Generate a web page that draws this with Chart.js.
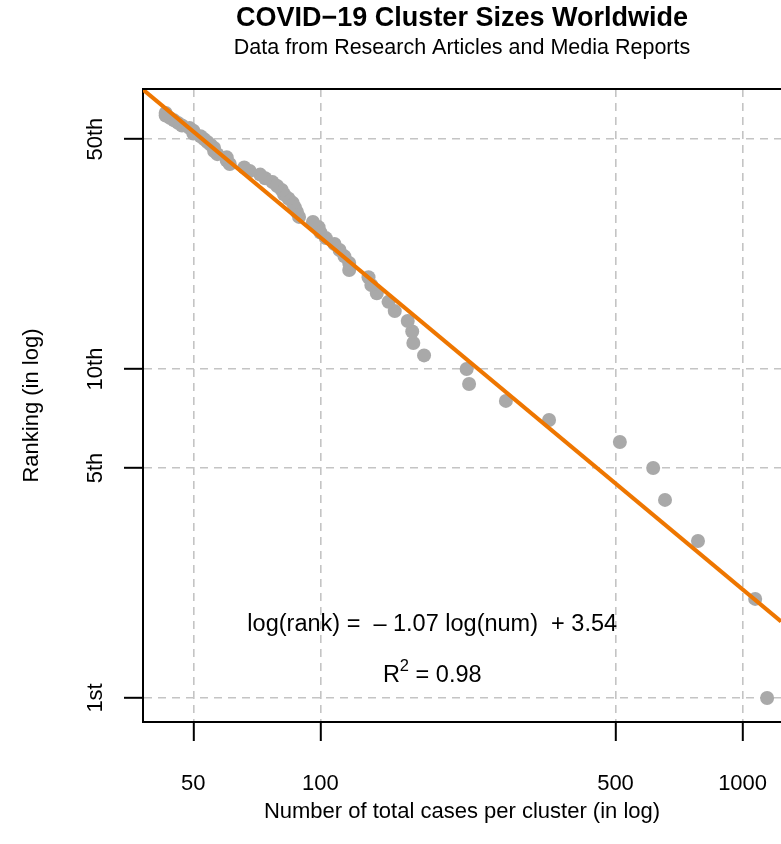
<!DOCTYPE html>
<html>
<head>
<meta charset="utf-8">
<title>COVID-19 Cluster Sizes Worldwide</title>
<script src="https://cdn.jsdelivr.net/npm/chart.js@4.4.1/dist/chart.umd.min.js"></script>
<style>
  body { margin: 0; background: #fff; }
  #wrap { width: 781px; height: 844px; position: relative; }
</style>
</head>
<body>
<div id="wrap"><canvas id="clusterChart"></canvas></div>
<script>
// rank of each cluster (1 = largest) and its number of total cases
var ranks = [
   1,  2,  3,  4,  5,  6,  7,  8,  9, 10,
  11, 12, 13, 14, 15, 16, 17, 18, 19, 20,
  21, 22, 23, 24, 25, 26, 27, 28, 29, 30,
  31, 32, 33, 34, 35, 36, 37, 38, 39, 40,
  41, 42, 43, 44, 45, 46, 47, 48, 49, 50,
  51, 52, 53, 54, 55, 56, 57, 58, 59, 60
];
var totalCases = [
  1143, 1071, 784, 655, 614, 512, 348, 275, 225, 222,
   176,  166, 165, 161, 150, 145, 136, 132, 130, 117,
   117,  114, 111, 108, 103, 100,  99,  96,  89,  88,
    87,   86,  84,  82,  81,  79,  77,  74,  72,  68,
    66,   61,  60,  60,  57,  56,  56,  55,  54,  53,
    52,   50,  50,  49,  47,  46,  45,  44,  43,  43
];

var xTicks = [50, 100, 500, 1000];
var yTicks = [1, 5, 10, 50];
var yTickLabels = ['1st', '5th', '10th', '50th'];

// log10(rank) = fitSlope * log10(num) + fitIntercept
var fitSlope = -1.07;
var fitIntercept = 3.54;
var fitR2 = 0.98;

var xRange = [38, 1233];
var yRange = [0.845, 71];

var mainTitle = 'COVID\u221219 Cluster Sizes Worldwide';
var subTitle = 'Data from Research Articles and Media Reports';
var xTitle = 'Number of total cases per cluster (in log)';
var yTitle = 'Ranking (in log)';

var FONT = '"Liberation Sans", Arial, Helvetica, sans-serif';

function fitRank(num) {
  return Math.pow(10, fitIntercept + fitSlope * Math.log10(num));
}

var points = totalCases.map(function (c, i) { return {x: c, y: ranks[i]}; });
var fitLine = xRange.map(function (x) { return {x: x, y: fitRank(x)}; });

// frame top, titles, rotated y labels and the fit annotation
var decorations = {
  id: 'decorations',
  afterDraw: function (chart) {
    var ctx = chart.ctx, area = chart.chartArea;
    var xs = chart.scales.x, ys = chart.scales.y;
    var cx = (area.left + area.right) / 2;
    ctx.save();
    ctx.strokeStyle = '#000';
    ctx.lineWidth = 2;
    ctx.beginPath();
    ctx.moveTo(area.left - 1, area.top);
    ctx.lineTo(area.right, area.top);
    ctx.stroke();

    ctx.fillStyle = '#000';
    ctx.textAlign = 'center';
    ctx.textBaseline = 'middle';
    ctx.font = 'bold 27px ' + FONT;
    ctx.fillText(mainTitle, cx, 19);
    ctx.font = '21.5px ' + FONT;
    ctx.fillText(subTitle, cx, 48);

    ctx.font = '22px ' + FONT;
    yTicks.forEach(function (v, i) {
      ctx.save();
      ctx.translate(96, ys.getPixelForValue(v));
      ctx.rotate(-Math.PI / 2);
      ctx.fillText(yTickLabels[i], 0, 0);
      ctx.restore();
    });
    ctx.save();
    ctx.translate(32, (area.top + area.bottom) / 2);
    ctx.rotate(-Math.PI / 2);
    ctx.fillText(yTitle, 0, 0);
    ctx.restore();
    ctx.fillText(xTitle, cx, 812);

    // regression equation and R squared
    ctx.font = '23.5px ' + FONT;
    var ex = xs.getPixelForValue(184);
    var eq = 'log(rank) =  \u2013 ' + Math.abs(fitSlope).toFixed(2) +
             ' log(num)  + ' + fitIntercept.toFixed(2);
    ctx.fillText(eq, ex, ys.getPixelForValue(1.667));

    var rest = ' = ' + fitR2.toFixed(2);
    var wR = ctx.measureText('R').width;
    var wRest = ctx.measureText(rest).width;
    ctx.font = '16.5px ' + FONT;
    var wSup = ctx.measureText('2').width;
    var ry = ys.getPixelForValue(1.166);
    var x0 = ex - (wR + wSup + wRest) / 2;
    ctx.textAlign = 'left';
    ctx.fillText('2', x0 + wR, ry - 10);
    ctx.font = '23.5px ' + FONT;
    ctx.fillText('R', x0, ry);
    ctx.fillText(rest, x0 + wR + wSup, ry);
    ctx.restore();
  }
};

var gridStyle = {
  color: '#c4c4c4',
  lineWidth: 1.6,
  tickColor: '#000',
  tickWidth: 2,
  tickLength: 19,
  tickBorderDash: []
};

var ctx = document.getElementById('clusterChart').getContext('2d');
var chart = new Chart(ctx, {
  type: 'scatter',
  data: {
    datasets: [{
      type: 'line',
      label: 'fit',
      data: fitLine,
      borderColor: '#EE7600',
      borderWidth: 4,
      pointRadius: 0,
      fill: false,
      order: 0
    }, {
      label: 'clusters',
      data: points,
      backgroundColor: '#A9A9A9',
      borderColor: '#A9A9A9',
      borderWidth: 0,
      pointRadius: 7,
      order: 1
    }]
  },
  options: {
    responsive: true,
    maintainAspectRatio: false,
    animation: false,
    layout: {
      autoPadding: false,
      padding: { top: 89, right: 0, left: 0, bottom: 0 }
    },
    plugins: {
      legend: { display: false },
      tooltip: { enabled: false },
      title: { display: false }
    },
    scales: {
      x: {
        type: 'logarithmic',
        min: xRange[0],
        max: xRange[1],
        afterBuildTicks: function (scale) {
          scale.ticks = xTicks.map(function (v) { return {value: v}; });
        },
        afterFit: function (scale) {
          scale.height = 122;
          scale.paddingLeft = 0;
          scale.paddingRight = 0;
        },
        grid: gridStyle,
        border: { display: true, color: '#000', width: 2, dash: [8, 6] },
        ticks: {
          color: '#000',
          font: { family: FONT, size: 22 },
          padding: 30,
          maxRotation: 0,
          autoSkip: false,
          callback: function (v) { return String(v); }
        }
      },
      y: {
        type: 'logarithmic',
        min: yRange[0],
        max: yRange[1],
        afterBuildTicks: function (scale) {
          scale.ticks = yTicks.map(function (v) { return {value: v}; });
        },
        afterFit: function (scale) {
          scale.width = 143;
          scale.paddingTop = 0;
          scale.paddingBottom = 0;
        },
        grid: gridStyle,
        border: { display: true, color: '#000', width: 2, dash: [8, 6] },
        ticks: { display: false }
      }
    }
  },
  plugins: [decorations]
});
</script>
</body>
</html>
